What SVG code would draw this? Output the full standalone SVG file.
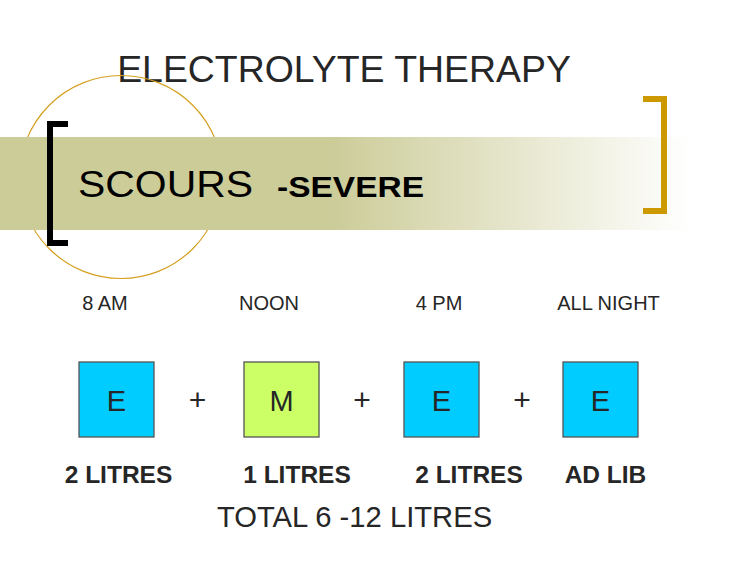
<svg xmlns="http://www.w3.org/2000/svg" width="750" height="561" viewBox="0 0 750 561">
<defs>
<linearGradient id="band" x1="0" y1="0" x2="690" y2="0" gradientUnits="userSpaceOnUse">
<stop offset="0" stop-color="#CCCC99"/>
<stop offset="0.48" stop-color="#CCCC99"/>
<stop offset="1" stop-color="#FFFFFF"/>
</linearGradient>
</defs>
<style>
text{font-family:"Liberation Sans",Arial,sans-serif;fill:#262626}
.time{font-size:20px;text-anchor:middle}
.qty{font-size:24.5px;font-weight:bold;text-anchor:middle}
.box{stroke:#555555;stroke-width:1.3}
.e{fill:#00CCFF}
.m{fill:#CCFF66}
.lbl{font-size:29px;text-anchor:middle}
.plus{font-size:30px;text-anchor:middle}
</style>
<rect width="750" height="561" fill="#FFFFFF"/>
<g id="title"><text x="344" y="82" font-size="37.4" text-anchor="middle">ELECTROLYTE THERAPY</text></g>
<g id="banner">
<circle cx="121" cy="177" r="101.5" fill="none" stroke="#D4A020" stroke-width="1.2"/>
<rect x="0" y="137" width="695" height="93" fill="url(#band)"/>
<path d="M68,124 H50 V243 H68" fill="none" stroke="#000000" stroke-width="6"/>
<path d="M643,99 H664 V211 H643" fill="none" stroke="#CC9900" stroke-width="6"/>
<text x="78" y="197" font-size="37" textLength="175" lengthAdjust="spacingAndGlyphs" style="fill:#000">SCOURS</text>
<text x="277" y="197" font-size="29" font-weight="bold" textLength="147" lengthAdjust="spacingAndGlyphs" style="fill:#000">-SEVERE</text>
</g>
<g id="times">
<text class="time" x="105" y="310">8 AM</text>
<text class="time" x="269" y="310">NOON</text>
<text class="time" x="439" y="310">4 PM</text>
<text class="time" x="608.5" y="310">ALL NIGHT</text>
</g>
<g id="node1"><rect class="box e" x="79" y="362" width="75" height="75"/><text class="lbl" x="116.5" y="411">E</text></g>
<g id="node2"><rect class="box m" x="244" y="362" width="75" height="75"/><text class="lbl" x="281.5" y="411">M</text></g>
<g id="node3"><rect class="box e" x="404" y="362" width="75" height="75"/><text class="lbl" x="441.5" y="411">E</text></g>
<g id="node4"><rect class="box e" x="563" y="362" width="75" height="75"/><text class="lbl" x="600.5" y="411">E</text></g>
<g id="connectors">
<text class="plus" x="197.5" y="410">+</text>
<text class="plus" x="362" y="410">+</text>
<text class="plus" x="522" y="410">+</text>
</g>
<g id="quantities">
<text class="qty" x="118.5" y="483">2 LITRES</text>
<text class="qty" x="297" y="483">1 LITRES</text>
<text class="qty" x="469" y="483">2 LITRES</text>
<text class="qty" x="605.5" y="483">AD LIB</text>
</g>
<g id="total"><text x="354.5" y="527" font-size="29.2" text-anchor="middle">TOTAL 6 -12 LITRES</text></g>
</svg>
